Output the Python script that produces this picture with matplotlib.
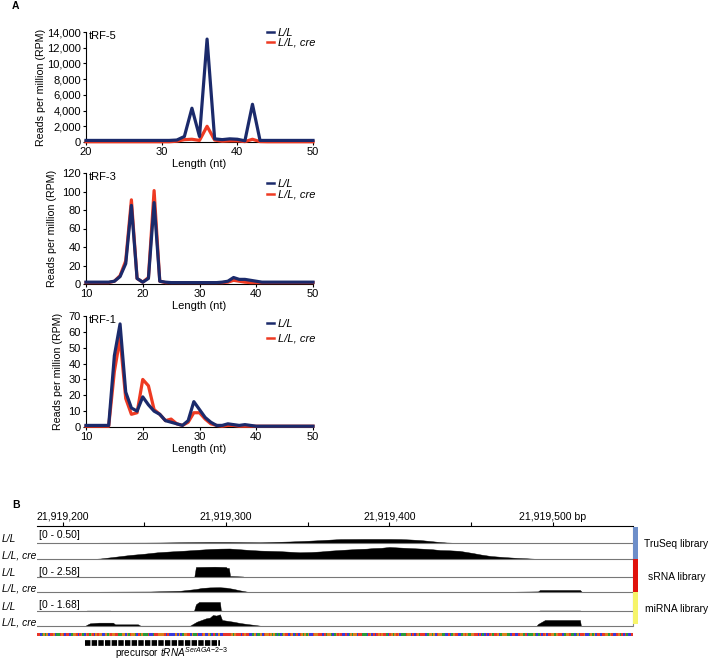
import matplotlib
matplotlib.use("Agg")
import matplotlib.pyplot as plt
import matplotlib.transforms as mtransforms
from matplotlib.ticker import StrMethodFormatter
import numpy as np

plt.rcParams['font.family'] = ['Liberation Sans', 'DejaVu Sans']
plt.rcParams['mathtext.fontset'] = 'custom'
plt.rcParams['mathtext.rm'] = 'Liberation Sans'
plt.rcParams['mathtext.it'] = 'Liberation Sans:italic'

W, H = 709, 660

# ---------------- panel A data (reads per million) ----------------
trf5_len = list(range(20, 51))
trf5_ll = [200, 200, 200, 200, 200, 200, 200, 200, 200, 200, 200, 200, 250, 700, 4300, 700,
           13100, 400, 300, 400, 350, 150, 4800, 200, 200, 200, 200, 200, 200, 200, 200]
trf5_cre = [30, 30, 30, 30, 30, 30, 30, 30, 30, 30, 30, 30, 100, 300, 350, 200,
            2000, 250, 100, 150, 150, 50, 350, 50, 30, 30, 30, 30, 30, 30, 30]

trf3_len = list(range(10, 51))
trf3_ll = [2, 2, 2, 2, 2, 3, 8, 22, 85, 6, 2, 6, 88, 3, 2, 1.5, 1.5, 1.5, 1.5, 1.5,
           1.5, 1.5, 1.5, 1.5, 2, 3, 7, 5, 5, 4, 3, 2, 2, 2, 2, 2, 2, 2, 2, 2, 2]
trf3_cre = [1.5, 1.5, 1.5, 1.5, 1.5, 3, 9, 25, 91, 6, 2, 7, 101, 3, 1.5, 1.5, 1.5, 1.5, 1.5, 1.5,
            1.5, 1.5, 1.5, 1.5, 1.5, 2, 4, 3, 2, 1.5, 1.5, 1.5, 1.5, 1.5, 1.5, 1.5, 1.5, 1.5, 1.5, 1.5, 1.5]

trf1_len = list(range(10, 51))
trf1_ll = [1, 1, 1, 1, 1, 45, 65, 22, 12, 10, 19, 14, 10, 8, 4, 3, 2, 1, 4, 16,
           11, 6, 3, 1, 1, 2, 1.5, 1, 1.5, 1, 0.5, 0.5, 0.5, 0.5, 0.5, 0.5, 0.5, 0.5, 0.5, 0.5, 0.5]
trf1_cre = [0.5, 0.5, 0.5, 0.5, 0.5, 35, 56, 18, 8, 9, 30, 26, 11, 8, 4, 5, 2, 1, 3, 9,
            9, 5, 2, 1, 0.5, 1, 1, 0.5, 0.5, 0.5, 0.5, 0.5, 0.5, 0.5, 0.5, 0.5, 0.5, 0.5, 0.5, 0.5, 0.5]

series_labels = ['L/L', 'L/L, cre']

# ---------------- panel B data ----------------
CHR_OFF = 21919000
view_start, view_end = 21919184, 21919549
ruler_major = [21919200, 21919300, 21919400, 21919500]
ruler_minor = [21919250, 21919350, 21919450]
ruler_labels = ['21,919,200', '21,919,300', '21,919,400', '21,919,500 bp']

# coverage: position offset from 21,919,000 and value in track units
truseq_ll_pos = [184, 205, 223, 250, 260, 278, 290, 302, 312, 321, 330, 339, 350, 357, 365,
                 370, 385, 400, 407, 413, 419, 425, 430, 435, 443]
truseq_ll_val = [0, 0.005, 0.011, 0.014, 0.018, 0.03, 0.036, 0.036, 0.03, 0.025, 0.04, 0.054,
                 0.08, 0.1, 0.125, 0.14, 0.145, 0.145, 0.14, 0.125, 0.105, 0.07, 0.04, 0.018, 0]
truseq_cre_pos = [218, 223, 232, 241, 250, 258, 266, 275, 283, 290, 296, 302, 308, 315, 321,
                  327, 333, 339, 345, 352, 358, 364, 372, 380, 386, 390, 395, 400, 406, 413,
                  420, 426, 431, 437, 443, 451, 456, 462, 470, 478, 484, 492]
truseq_cre_val = [0, 0.018, 0.08, 0.143, 0.19, 0.24, 0.27, 0.3, 0.33, 0.357, 0.37, 0.375, 0.35,
                  0.32, 0.3, 0.29, 0.28, 0.26, 0.24, 0.25, 0.27, 0.3, 0.33, 0.357, 0.37, 0.39,
                  0.4, 0.43, 0.41, 0.39, 0.37, 0.35, 0.32, 0.31, 0.29, 0.214, 0.16, 0.107,
                  0.07, 0.04, 0.025, 0]
srna_ll_pos = [280.5, 281.5, 293, 299.9, 300.5, 301.7, 302.4, 310.3, 311.5]
srna_ll_val = [0, 1.84, 1.9, 1.84, 1.66, 1.66, 0.18, 0.09, 0]
srna_cre_pos = [214.8, 222.7, 253.4, 271.7, 281.5, 285, 290, 296, 300, 304, 308.5, 312.8, 318,
                473.8, 476.9, 491, 492.2, 516.7, 517.9]
srna_cre_val = [0, 0.055, 0.09, 0.22, 0.55, 0.74, 0.85, 0.88, 0.8, 0.6, 0.3, 0.06, 0,
                0, 0.055, 0.11, 0.37, 0.37, 0]
mirna_ll_pos = [213.6, 214.8, 228.9, 230.1, 280.3, 281.5, 283.4, 296.2, 296.8, 299.9,
                491, 492.2, 516.7, 517.3]
mirna_ll_val = [0, 0.05, 0.05, 0, 0, 0.8, 1.08, 1.08, 0.06, 0, 0, 0.06, 0.06, 0]
mirna_cre_pos = [213.6, 214.8, 216.6, 222, 230.7, 232, 246, 247.5, 277.9, 282.1, 287.7, 290,
                 291.9, 294, 296.2, 297.5, 304.2, 308.5, 312.8, 317.7, 320.7, 321.9,
                 490, 491, 495.3, 516.7, 517.3]
mirna_cre_val = [0, 0.15, 0.32, 0.4, 0.4, 0.2, 0.2, 0.04, 0.04, 0.52, 0.92, 1.0, 1.32, 1.25,
                 1.4, 0.72, 0.52, 0.36, 0.24, 0.12, 0.04, 0,
                 0, 0.24, 0.72, 0.72, 0]

track_names = ['L/L', 'L/L, cre', 'L/L', 'L/L, cre', 'L/L', 'L/L, cre']
track_ranges = [0.50, 0.50, 2.58, 2.58, 1.68, 1.68]
range_labels = ['[0 - 0.50]', '[0 - 2.58]', '[0 - 1.68]']
library_names = ['TruSeq library', 'sRNA library', 'miRNA library']
library_colors = ['#6d8ec9', '#e0120c', '#f6f46a']

ref_seq = ("TTCAGAGCTTGCAATGTCTTCAGGTCTGAC"
           "GTAGTCGTGGCCGAGTGGTTAAGGCGATGGACTAGAAATCCATTGGGGTCTCCCCGCGCAGGTTCGAATCCTGCCGACTACG"
           "CCTTTTTGAGTTTCTGTTCCAGCAAGCTGGTGAGACACAGTTCTGCATCT"
           "GAGAGCCTGGTTTCTAGGACAGTGTCCTCAGAGGCTTAAACTGCTCTGTG"
           "TTACTGAGTGCAAATGGCTCTGATTTCAGGAGCTGGAACCTCAGTTCCAG"
           "TGAAGGTTCTCACTCTGATTGCAGGGAACTTCCTGGATCAAAGACATCTG"
           "CTTGGAGTTTCAGGTAACAGCTTGCCAGAGCTTCTTGGAGTCCTGATCTA"
           "CCTGTGAGTTCAGCTTGAGGTC")
base_colors = {'A': '#2a9a3a', 'C': '#3a3ad8', 'G': '#d8801e', 'T': '#e8352a'}
trna_start, trna_end = 21919213.5, 21919296.5

BLUE = '#1b2a6b'
RED = '#ee3a22'


def fx(px):
    return px / W


def fy(py):
    return 1 - py / H


fig = plt.figure(figsize=(W / 100, H / 100), dpi=100)


def rpm_panel(top, bottom, x, ll, cre, xlim, ylim, ystep, title, ylabpad, leg_top, leg_sp):
    ax = fig.add_axes([fx(86), fy(bottom), (313 - 86) / W, (bottom - top) / H])
    ax.plot(x, cre, color=RED, lw=2.3, clip_on=False, zorder=3, label=series_labels[1])
    ax.plot(x, ll, color=BLUE, lw=2.3, clip_on=False, zorder=4, label=series_labels[0])
    ax.set_xlim(*xlim)
    ax.set_ylim(*ylim)
    ax.set_xticks(range(xlim[0], xlim[1] + 1, 10))
    ax.set_yticks(np.arange(0, ylim[1] + 1, ystep))
    ax.yaxis.set_major_formatter(StrMethodFormatter('{x:,.0f}'))
    for s in ['top', 'right']:
        ax.spines[s].set_visible(False)
    for s in ['left', 'bottom']:
        ax.spines[s].set_linewidth(0.8)
    ax.tick_params(direction='out', length=2.2, width=0.8, pad=1.5, labelsize=8)
    ax.set_xlabel('Length (nt)', fontsize=8, labelpad=1)
    ax.set_ylabel('Reads per million (RPM)', fontsize=7.7, labelpad=ylabpad)
    ax.annotate(title, xy=(0, 1), xycoords='axes fraction', xytext=(2, 1),
                textcoords='offset points', fontsize=8, va='top', ha='left')
    h, l = ax.get_legend_handles_labels()
    leg = ax.legend(h[::-1], l[::-1], loc='upper left', bbox_to_anchor=(fx(267), fy(leg_top)),
                    bbox_transform=fig.transFigure, frameon=False, borderpad=0, borderaxespad=0,
                    handlelength=0.6, handletextpad=0.35, labelspacing=leg_sp,
                    prop={'style': 'italic', 'size': 8})
    for ln in leg.get_lines():
        ln.set_linewidth(1.8)
    return ax


rpm_panel(32, 142, trf5_len, trf5_ll, trf5_cre, (20, 50), (0, 14000), 2000, 'tRF-5', 1, 27.5, 0.02)
rpm_panel(173, 284, trf3_len, trf3_ll, trf3_cre, (10, 50), (0, 120), 20, 'tRF-3', 4, 179, 0.08)
rpm_panel(316, 427, trf1_len, trf1_ll, trf1_cre, (10, 50), (0, 70), 10, 'tRF-1', 4, 319, 0.4)

fig.text(fx(12), fy(6), 'A', fontsize=7.5, weight='bold', va='center')
fig.text(fx(12), fy(505), 'B', fontsize=7.5, weight='bold', va='center')

# ---------------- panel B: genome browser ----------------
axb = fig.add_axes([fx(36.7), 0, 596 / W, (H - 526) / H])
axb.set_xlim(view_start, view_end)
axb.set_ylim(H, 526)
axb.xaxis.set_ticks_position('top')
axb.set_xticks(ruler_major)
axb.set_xticklabels(ruler_labels)
axb.set_xticks(ruler_minor, minor=True)
axb.tick_params(axis='x', which='both', direction='out', length=3, width=0.8, pad=0,
                labelsize=7.6)
axb.set_yticks([])
axb.spines['top'].set_linewidth(0.8)
axb.spines['left'].set_visible(False)
axb.spines['bottom'].set_visible(False)
axb.spines['right'].set_color('#888888')
axb.spines['right'].set_linewidth(0.8)
axb.spines['right'].set_bounds(527, 626)

baselines = [543, 559, 577, 592, 611, 626]
track_h = 14
coverage = [(truseq_ll_pos, truseq_ll_val), (truseq_cre_pos, truseq_cre_val),
            (srna_ll_pos, srna_ll_val), (srna_cre_pos, srna_cre_val),
            (mirna_ll_pos, mirna_ll_val), (mirna_cre_pos, mirna_cre_val)]
lab_tr = mtransforms.blended_transform_factory(fig.transFigure, axb.transData)
for base, (pos, val), rng, name in zip(baselines, coverage, track_ranges, track_names):
    xs = np.array(pos) + CHR_OFF
    ys = base - np.array(val) / rng * track_h
    axb.fill_between(xs, base, ys, color='black', lw=0.3, edgecolor='black')
    axb.axhline(base, color='#777777', lw=0.8)
    axb.text(fx(1.5), base - 3.8, name, transform=lab_tr, fontsize=7.4, style='italic',
             ha='left', va='center')

for yl, txt in zip([534.5, 571.5, 604.5], range_labels):
    axb.text(21919185.5, yl, txt, fontsize=7.4, ha='left', va='center')

seq_pos = view_start + np.arange(len(ref_seq))
seq_cols = [base_colors[b] for b in ref_seq]
axb.bar(seq_pos, 3.8, bottom=632.6, width=1.0, color=seq_cols, linewidth=0, align='edge')

axb.plot([trna_start, trna_end], [643, 643], color='black', lw=4.1,
         ls=(0, (0.95, 0.22)), solid_capstyle='butt')
axb.text(21919232, 653.5, r'precursor $tRNA^{SerAGA{-}2{-}3}$', fontsize=7.2,
         ha='left', va='center')

# library colour bars
axl = fig.add_axes([fx(632.7), fy(624), 4.8 / W, (624 - 527) / H])
axl.barh(range(len(library_names)), [1] * len(library_names), height=1.0,
         color=library_colors, linewidth=0)
axl.set_xlim(0, 1)
axl.set_ylim(len(library_names) - 0.5, -0.5)
axl.set_xticks([])
axl.yaxis.tick_right()
axl.set_yticks(range(len(library_names)))
axl.set_yticklabels(library_names, fontsize=7.4, ha='center')
axl.tick_params(axis='y', length=0, pad=28)
for s in axl.spines.values():
    s.set_visible(False)

fig.savefig('out.png', dpi=100)
